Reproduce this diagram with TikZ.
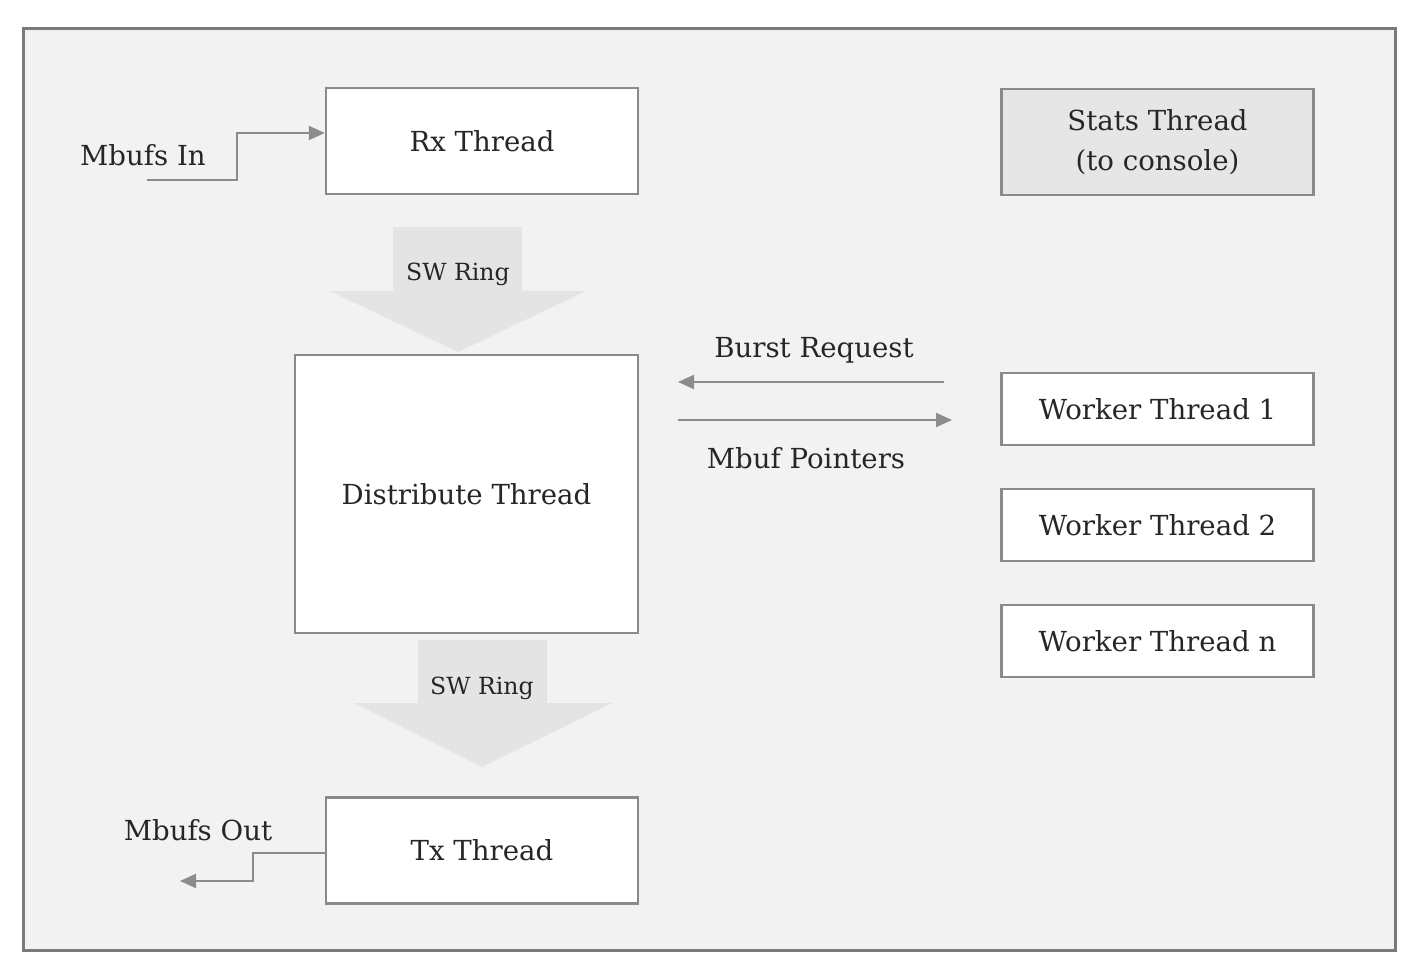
\documentclass[tikz,border=0pt]{standalone}
\usepackage{fontspec}
\setmainfont{DejaVu Serif}
\usetikzlibrary{arrows.meta}
\definecolor{framegray}{HTML}{7A7A7A}
\definecolor{bggray}{HTML}{F2F2F2}
\definecolor{boxgray}{HTML}{8A8A8A}
\definecolor{statsgray}{HTML}{E6E6E6}
\definecolor{ringgray}{HTML}{E4E4E4}
\definecolor{linegray}{HTML}{8C8C8C}
\definecolor{textgray}{HTML}{262626}
\tikzset{
  thread/.style={draw=boxgray, line width=1.2pt, fill=white, text=textgray,
    minimum width=156pt, minimum height=53pt, align=center, inner sep=0pt,
    font=\fontsize{13.8}{20}\selectfont},
  worker/.style={thread, minimum height=36pt},
  label/.style={text=textgray, font=\fontsize{13.8}{20}\selectfont, inner sep=0pt},
  ringlabel/.style={text=textgray, font=\fontsize{11.8}{14}\selectfont, inner sep=0pt},
  flow/.style={draw=linegray, line width=1pt, -{Triangle[length=8pt,width=7pt]}}
}
\begin{document}
\begin{tikzpicture}[x=0.5pt,y=-0.5pt]
\useasboundingbox (0,0) rectangle (1412,972);
% frame
\draw[draw=framegray, line width=1.5pt, fill=bggray] (23,29) rectangle (1395,950);

% sw rings
\fill[ringgray] (393,227) -- (522,227) -- (522,291) -- (586,291) -- (458,352)
  -- (330,291) -- (393,291) -- cycle;
\fill[ringgray] (418,640) -- (547,640) -- (547,703) -- (612,703) -- (482,767)
  -- (354,703) -- (418,703) -- cycle;
\node[ringlabel] (ring1) at (458,274) {SW Ring};
\node[ringlabel] (ring2) at (482,688) {SW Ring};

% threads
\node[thread] (rx) at (482,141) {Rx Thread};
\node[thread, fill=statsgray] (stats) at (1157.5,142) {Stats Thread\\(to console)};
\node[thread, minimum width=171.5pt, minimum height=139pt] (dist) at (466.5,494) {Distribute Thread};
\node[worker] (w1) at (1157.5,409) {Worker Thread 1};
\node[worker] (w2) at (1157.5,525) {Worker Thread 2};
\node[worker] (wn) at (1157.5,641) {Worker Thread n};
\node[thread] (tx) at (482,850.5) {Tx Thread};

% mbufs in/out
\node[label] (in) at (143,155) {Mbufs In};
\node[label] (out) at (198,830) {Mbufs Out};
\coordinate (instart) at (147,180);
\coordinate (outend) at (180,881);
\draw[flow] (instart) -- (237,180) |- ([yshift=4pt]rx.west);
\draw[flow] ([yshift=-1.25pt]tx.west) -- ++(-72,0) |- (outend);

% burst request / mbuf pointers
\coordinate (reqstart) at (944,382);
\coordinate (reqend) at (678,382);
\coordinate (ptrstart) at (678,420);
\coordinate (ptrend) at (952,420);
\draw[flow] (reqstart) -- (reqend);
\draw[flow] (ptrstart) -- (ptrend);
\node[label] (req) at (814,350) {Burst Request};
\node[label] (ptr) at (806,458) {Mbuf Pointers};
\end{tikzpicture}
\end{document}
